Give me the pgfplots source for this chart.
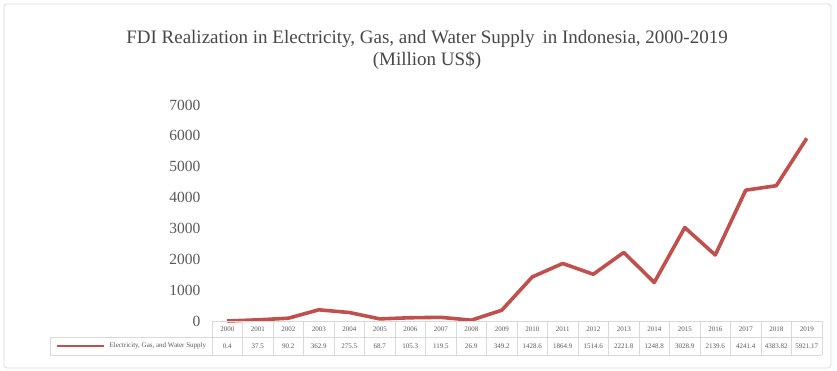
\documentclass[border=0pt]{standalone}
\usepackage{pgfplots}
\pgfplotsset{compat=1.18}
\usepackage{fontspec}
\setmainfont{Liberation Serif}
\definecolor{linered}{HTML}{C0504D}
\definecolor{txt}{HTML}{595959}
\definecolor{grid}{HTML}{D9D9D9}
\begin{document}
\begin{tikzpicture}[x=1pt,y=1pt]
\draw[grid, line width=0.8pt, rounded corners=3pt] (4,2) rectangle (831,366);
\path[use as bounding box] (0,0) rectangle (837,370);
\node[text=txt!80!black, font=\fontsize{19}{22}\selectfont, align=center] at (427,320) {FDI Realization in Electricity, Gas, and Water Supply\, in Indonesia, 2000-2019\\(Million US\$)};
\begin{axis}[
  at={(212pt,49pt)}, anchor=south west,
  scale only axis, width=610pt, height=216pt,
  xmin=-0.5, xmax=19.5, ymin=0, ymax=7000,
  axis line style={draw=none},
  xtick=\empty,
  ytick={0,1000,2000,3000,4000,5000,6000,7000},
  major tick length=0pt,
  yticklabel style={text=txt, font=\fontsize{15.5}{17}\selectfont, xshift=-8pt},
  /pgf/number format/assume math mode=true,
  /pgf/number format/1000 sep={},
  clip=false,
]
\addplot[linered, line width=3.6pt, line join=round] coordinates {
(0,0.4) (1,37.5) (2,90.2) (3,362.9) (4,275.5) (5,68.7) (6,105.3) (7,119.5) (8,26.9) (9,349.2)
(10,1428.6) (11,1864.9) (12,1514.6) (13,2221.8) (14,1248.8) (15,3028.9) (16,2139.6) (17,4241.4) (18,4383.82) (19,5921.17)};
\end{axis}
% data table
\draw[grid, line width=0.6pt] (212,49) -- (822,49);
\draw[grid, line width=0.6pt] (50,33) -- (822,33);
\draw[grid, line width=0.6pt] (50,15) -- (822,15);
\draw[grid, line width=0.6pt] (50,33) -- (50,15);
\foreach \yr/\v [count=\i from 0] in {2000/0.4,2001/37.5,2002/90.2,2003/362.9,2004/275.5,2005/68.7,2006/105.3,2007/119.5,2008/26.9,2009/349.2,2010/1428.6,2011/1864.9,2012/1514.6,2013/2221.8,2014/1248.8,2015/3028.9,2016/2139.6,2017/4241.4,2018/4383.82,2019/5921.17}{
  \draw[grid, line width=0.6pt] ({212+30.5*\i},49) -- ({212+30.5*\i},15);
  \node[text=txt, font=\fontsize{7}{8}\selectfont] at ({212+30.5*\i+15.25},41) {\yr};
  \node[text=txt, font=\fontsize{7}{8}\selectfont] at ({212+30.5*\i+15.25},24) {\v};
}
\draw[grid, line width=0.6pt] (822,49) -- (822,15);
\draw[linered, line width=2pt] (57,24) -- (104,24);
\node[text=txt, font=\fontsize{7}{8}\selectfont, anchor=west] at (106,24) {Electricity, Gas, and Water Supply};
\end{tikzpicture}
\end{document}
